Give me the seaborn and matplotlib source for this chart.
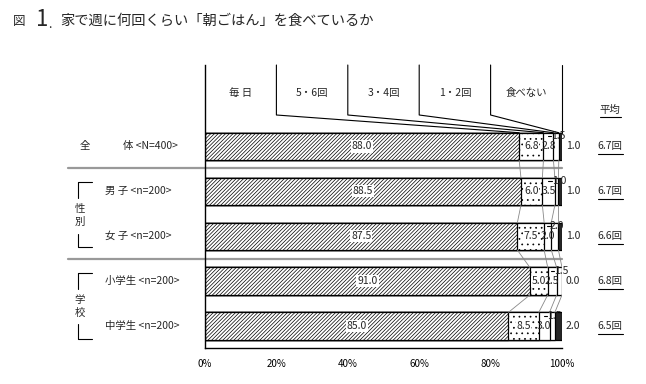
import matplotlib
matplotlib.use("Agg")
import matplotlib.pyplot as plt
import seaborn as sns
import pandas as pd
import numpy as np

# ---------------- data ----------------
groups = ["全体", "男子", "女子", "小学生", "中学生"]
row_labels = ["体 <N=400>", "男 子 <n=200>", "女 子 <n=200>", "小学生 <n=200>", "中学生 <n=200>"]
categories = ["毎 日", "5・6回", "3・4回", "1・2回", "食べない"]
everyday = [88.0, 88.5, 87.5, 91.0, 85.0]
five_six = [6.8, 6.0, 7.5, 5.0, 8.5]
three_four = [2.8, 3.5, 2.0, 2.5, 3.0]
one_two = [1.5, 1.0, 2.0, 1.5, 1.5]
never = [1.0, 1.0, 1.0, 0.0, 2.0]
averages = ["6.7回", "6.7回", "6.6回", "6.8回", "6.5回"]
xticks = [0, 20, 40, 60, 80, 100]
xtick_labels = ["0%", "20%", "40%", "60%", "80%", "100%"]
title_main = "家で週に何回くらい「朝ごはん」を食べているか"

# ---------------- style ----------------
sns.set_style("white")
plt.rcParams["font.family"] = ["Noto Sans CJK JP", "DejaVu Sans"]
plt.rcParams["hatch.linewidth"] = 0.5

W, H = 646, 384
AX_L, AX_R, AX_T, AX_B = 205, 562, 65, 348
Y0, DY = 146.5, 44.9
BW = 27.5 / DY


def yd(py):
    return (py - Y0) / DY


def xd(px):
    return (px - AX_L) / (AX_R - AX_L) * 100


fig = plt.figure(figsize=(W / 100, H / 100), dpi=100)
ax = fig.add_axes([AX_L / W, 1 - AX_B / H, (AX_R - AX_L) / W, (AX_B - AX_T) / H])

series = [everyday, five_six, three_four, one_two, never]
cum = np.cumsum(np.array(series), axis=0)  # shape (5 series, 5 groups)

styles = [
    dict(color="white", hatch="/////////"),
    dict(color="white", hatch="..."),
    dict(color="white", hatch=None),
    dict(color="white", hatch=None),
    dict(color="#262626", hatch=None),
]

# draw stacked bars: widest cumulative first
for k in range(4, -1, -1):
    df = pd.DataFrame({"group": groups, "value": cum[k]})
    kw = dict(data=df, x="value", y="group", order=groups, orient="h",
              color=styles[k]["color"], saturation=1, edgecolor="black",
              linewidth=0.9, width=BW, errorbar=None, ax=ax)
    if styles[k]["hatch"]:
        kw["hatch"] = styles[k]["hatch"]
    sns.barplot(**kw)

ax.set_xlim(0, 100)
ax.set_ylim(yd(AX_B), yd(AX_T))
ax.set_xlabel("")
ax.set_ylabel("")
ax.tick_params(left=False, labelleft=False)
ax.set_xticks(xticks)
ax.set_xticklabels(xtick_labels, fontsize=7)
ax.tick_params(axis="x", direction="in", length=3, width=0.8, pad=8, colors="black")
for s in ["top", "right"]:
    ax.spines[s].set_visible(False)
for s in ["left", "bottom"]:
    ax.spines[s].set_color("black")
    ax.spines[s].set_linewidth(1.0)

# series lines between bars
for i in range(len(groups) - 1):
    for k in range(4):
        ax.plot([cum[k][i], cum[k][i + 1]], [i + BW / 2, i + 1 - BW / 2],
                color="#888888", lw=0.6, zorder=1)

# header boxes and leader lines
for k in range(1, 5):
    ax.plot([20 * k, 20 * k, cum[k - 1][0]], [yd(AX_T), yd(115), -BW / 2],
            color="black", lw=0.8, clip_on=False)
ax.plot([100, 100], [yd(AX_T), -BW / 2], color="black", lw=0.8, clip_on=False)
for k, c in enumerate(categories):
    ax.text(20 * k + 10, yd(93), c, ha="center", va="center", fontsize=7.5)

# value labels
fs = 7.5
for i in range(len(groups)):
    left = 0
    for k in range(5):
        v = series[k][i]
        ctr = left + v / 2
        if k == 0:
            ax.text(ctr, i, f"{v:.1f}", ha="center", va="center", fontsize=fs, zorder=5,
                    bbox=dict(boxstyle="square,pad=0.1", fc="white", ec="none"))
        elif k == 1:
            ax.text(ctr, i, f"{v:.1f}", ha="center", va="center", fontsize=fs, zorder=5,
                    bbox=dict(boxstyle="square,pad=0.05", fc="white", ec="none"))
        elif k == 2:
            ax.text(ctr, i, f"{v:.1f}", ha="center", va="center", fontsize=fs, zorder=5)
        elif k == 3:
            ty = i - BW / 2 + yd(Y0 + 3.5)
            ax.text(ctr + 0.6, ty, f"{v:.1f}", ha="center", va="center", fontsize=fs,
                    zorder=5)
            ax.plot([ctr + 0.6 - xd(AX_L + 10.5), ctr + 0.6 - xd(AX_L + 7)], [ty, ty],
                    color="black", lw=0.8, zorder=5)
        else:
            ax.text(xd(566), i, f"{v:.1f}", ha="left", va="center", fontsize=fs,
                    clip_on=False)
        left += v
    # averages with underline
    ax.text(xd(610), i, averages[i], ha="center", va="center", fontsize=fs, clip_on=False)
    ax.plot([xd(597.5), xd(622.5)], [i + yd(Y0 + 7.5)] * 2, color="black", lw=0.8,
            clip_on=False)

ax.text(xd(610), yd(110), "平均", ha="center", va="center", fontsize=fs, clip_on=False)
ax.plot([xd(599.5), xd(620.5)], [yd(117.5)] * 2, color="black", lw=0.8, clip_on=False)

# left row labels
ax.text(xd(85), 0, "全", ha="center", va="center", fontsize=7.5, clip_on=False)
ax.text(xd(123), 0, row_labels[0], ha="left", va="center", fontsize=7.5, clip_on=False)
for i in range(1, 5):
    ax.text(xd(105), i, row_labels[i], ha="left", va="center", fontsize=7.5, clip_on=False)

# group labels with brackets
def bracket(top, top_end, bot_start, bot, chars, cy1, cy2):
    ax.plot([xd(92), xd(78), xd(78)], [yd(top), yd(top), yd(top_end)],
            color="black", lw=0.8, clip_on=False)
    ax.plot([xd(78), xd(78), xd(92)], [yd(bot_start), yd(bot), yd(bot)],
            color="black", lw=0.8, clip_on=False)
    ax.text(xd(80), yd(cy1), chars[0], ha="center", va="center", fontsize=7.5, clip_on=False)
    ax.text(xd(80), yd(cy2), chars[1], ha="center", va="center", fontsize=7.5, clip_on=False)


bracket(182, 198, 234, 247, "性別", 209, 222)
bracket(273, 289, 324, 339, "学校", 300, 313)

# separators
for py in [168, 259]:
    ax.plot([xd(68), 100], [yd(py)] * 2, color="#999999", lw=1.6, clip_on=False, zorder=0)

# title
fig.text(13 / W, 1 - 21 / H, "図", fontsize=9, ha="left", va="center")
fig.text(36 / W, 1 - 19 / H, "1", fontsize=16, ha="left", va="center")
fig.text(48 / W, 1 - 25 / H, ".", fontsize=9, ha="left", va="center")
fig.text(60 / W, 1 - 21 / H, title_main, fontsize=10.3, ha="left", va="center")

fig.savefig("out.png", dpi=100)
